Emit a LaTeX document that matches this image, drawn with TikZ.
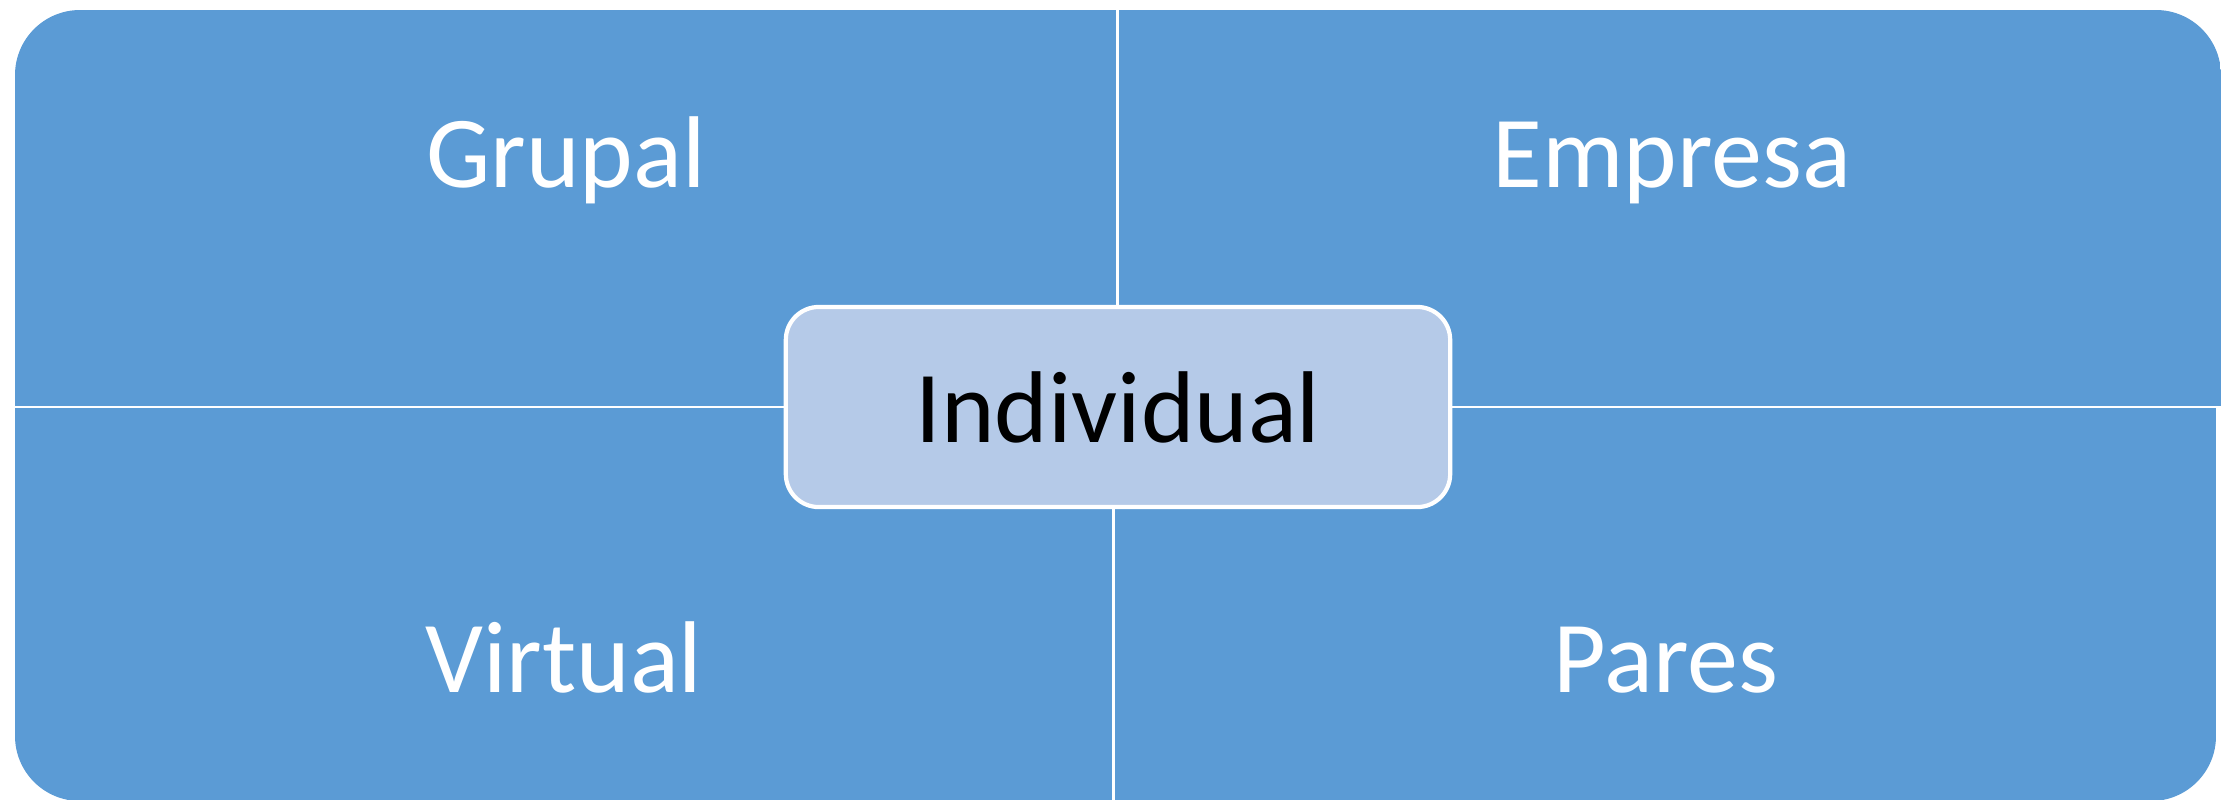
\documentclass[tikz,border=0pt]{standalone}
\usepackage{fontspec}
\setmainfont{Carlito}
\usetikzlibrary{positioning}

\definecolor{quadblue}{HTML}{5B9BD5}
\definecolor{centreblue}{HTML}{B5CAE8}

\begin{document}
\begin{tikzpicture}[x=0.01cm, y=-0.01cm,
  quad/.style={fill=quadblue},
  quadlabel/.style={text=white, anchor=base, inner sep=0pt,
    font=\fontsize{29}{35}\selectfont},
  centrebox/.style={draw=white, line width=1.2pt, fill=centreblue,
    rounded corners=0.33cm, minimum width=6.64cm, minimum height=2cm,
    text=black, font=\fontsize{29}{35}\selectfont}]

  \useasboundingbox (0,0) rectangle (2229,799);

  % top left
  \begin{scope}
  \clip[rounded corners=0.65cm] (15,10) rectangle (1500,700);
  \path[quad] (15,10) rectangle (1116,406);
  \end{scope}

  % top right
  \begin{scope}
  \clip[rounded corners=0.65cm] (800,10) rectangle (2221,700);
  \path[quad] (1119,10) rectangle (2221,406);
  \end{scope}

  % bottom left
  \begin{scope}
  \clip[rounded corners=0.65cm] (15,100) rectangle (1500,801);
  \path[quad] (15,408) rectangle (1112,801);
  \end{scope}

  % bottom right
  \begin{scope}
  \clip[rounded corners=0.65cm] (800,100) rectangle (2216,801);
  \path[quad] (1115,408) rectangle (2216,801);
  \end{scope}

  % labels
  \node[quadlabel] (grupal) at (566,187) {Grupal};
  \node[quadlabel] (empresa) at (1672,187) {Empresa};
  \node[quadlabel] (virtual) at (564,692) {Virtual};
  \node[quadlabel] (pares) at (1666,692) {Pares};

  % centre
  \node[centrebox] (individual) at (1118,407) {Individual};
\end{tikzpicture}
\end{document}
